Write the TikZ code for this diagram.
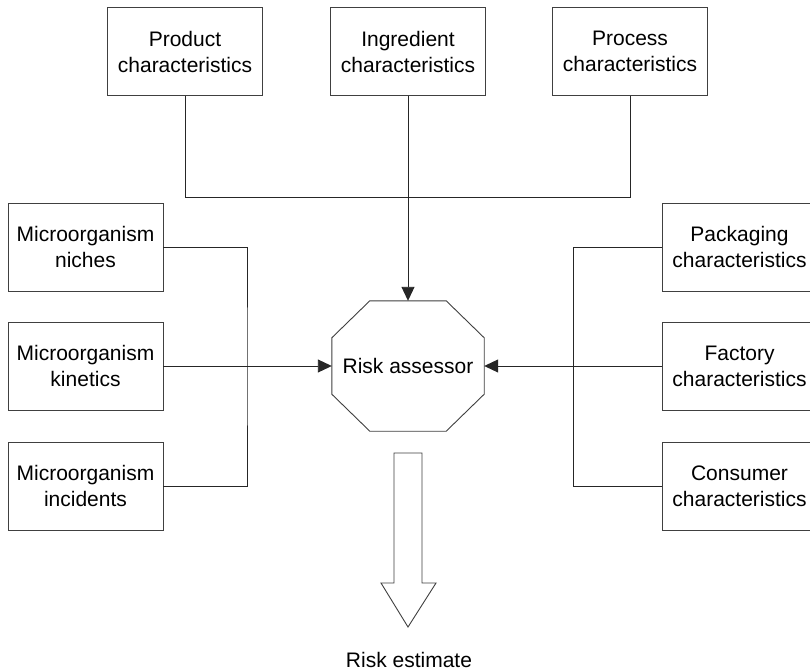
\documentclass[tikz,border=0pt]{standalone}
\usepackage{fontspec}
\setmainfont{Liberation Sans}
\usetikzlibrary{arrows.meta}
\begin{document}
\begin{tikzpicture}[x=1pt,y=-1pt,
  box/.style={draw=black!75,line width=0.9pt,minimum width=155pt,minimum height=88pt,
    align=center,inner sep=0pt,font=\fontsize{21}{26}\selectfont},
  conn/.style={draw=black!85,line width=0.9pt},
  arr/.style={conn,-{Triangle[length=14pt,width=13pt]}},
  lbl/.style={font=\fontsize{21}{26}\selectfont}]
\clip (0,0) rectangle (810,671);
\fill[white] (0,0) rectangle (810,671);
% top boxes
\node[box] (prod) at (185,51.5) {Product\\characteristics};
\node[box] (ingr) at (408,51.5) {Ingredient\\characteristics};
\node[box] (proc) at (630,51.5) {Process\\characteristics};
% left boxes
\node[box] (niche) at (85.5,247) {Microorganism\\niches};
\node[box] (kin) at (85.5,366) {Microorganism\\kinetics};
\node[box] (inc) at (85.5,486) {Microorganism\\incidents};
% right boxes
\node[box] (pack) at (739.5,247) {Packaging\\characteristics};
\node[box] (fact) at (739.5,366) {Factory\\characteristics};
\node[box] (cons) at (739.5,486) {Consumer\\characteristics};
% risk assessor
\node[lbl,minimum width=152pt,minimum height=130pt,inner sep=0pt] (risk) at (408,366) {Risk assessor};
\draw[draw=black!75,line width=0.9pt]
  ([xshift=38pt]risk.north west) -- ([xshift=-38pt]risk.north east)
  -- ([yshift=-37pt]risk.north east) -- ([yshift=37pt]risk.south east)
  -- ([xshift=-38pt]risk.south east) -- ([xshift=38pt]risk.south west)
  -- ([yshift=37pt]risk.south west) -- ([yshift=-37pt]risk.north west) -- cycle;
% junction coordinates
\coordinate (tj) at (408,197);
\coordinate (lj) at (247,366);
\coordinate (rj) at (573,366);
% top connectors
\draw[conn] (prod.south) -- (prod.south |- tj) -- (proc.south |- tj) -- (proc.south);
\draw[arr] (ingr.south) -- (risk.north);
% left connectors
\draw[conn] (niche.east) -| (lj) |- (inc.east);
\draw[arr] (kin.east) -- (risk.west);
% right connectors
\draw[conn] (pack.west) -| (rj) |- (cons.west);
\draw[arr] (fact.west) -- (risk.east);
% block arrow
\coordinate (tip) at (408,627);
\draw[draw=black!75,line width=0.9pt,fill=white]
  (394,453) -- (422,453) -- (422,583) -- (436,583) -- (tip) -- (381,583) -- (394,583) -- cycle;
\node[lbl,anchor=base] (est) at (409,667) {Risk estimate};
\end{tikzpicture}
\end{document}
